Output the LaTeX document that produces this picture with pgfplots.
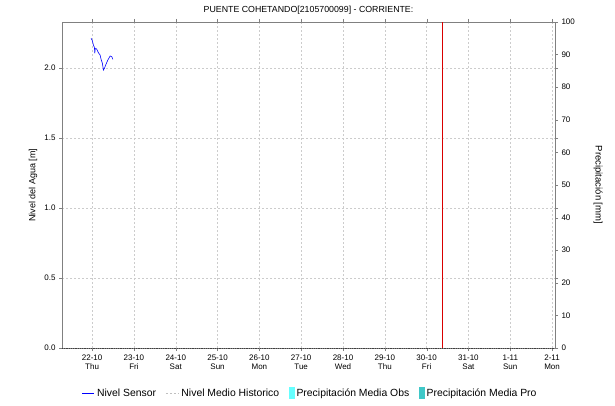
\documentclass[border=0pt]{standalone}
\usepackage{fontspec}
\setmainfont{Liberation Sans}
\usepackage{pgfplots}
\pgfplotsset{compat=1.18}
\definecolor{obs}{RGB}{102,255,255}
\definecolor{pro}{RGB}{64,200,200}
\begin{document}
\begin{tikzpicture}[font=\fontsize{8}{9.5}\selectfont]
\useasboundingbox (0,0) rectangle (615pt,405pt);
\begin{axis}[
  at={(62pt,57pt)}, anchor=south west,
  width=493pt, height=326pt, scale only axis,
  xmin=-0.72, xmax=11.07, ymin=0, ymax=2.329,
  xtick={0,...,11},
  xticklabels={22-10\\Thu,23-10\\Fri,24-10\\Sat,25-10\\Sun,26-10\\Mon,27-10\\Tue,28-10\\Wed,29-10\\Thu,30-10\\Fri,31-10\\Sat,1-11\\Sun,2-11\\Mon},
  xticklabel style={align=center, font=\fontsize{8}{9.5}\selectfont},
  ytick={0,0.5,1,1.5,2},
  yticklabel style={/pgf/number format/.cd, fixed, fixed zerofill, precision=1, assume math mode=true},
  /pgf/number format/assume math mode=true,
  tick align=outside, major tick length=3pt,
  tick style={gray},
  axis line style={gray},
  grid=major,
  major grid style={gray!40, dash pattern=on 2pt off 2pt},
  ylabel={Nivel del Agua [m]},
  every axis y label/.style={at={([xshift=-29pt]rel axis cs:0,0.5)}, anchor=center, rotate=90, font=\fontsize{9}{10}\selectfont},
  title={PUENTE COHETANDO[2105700099] - CORRIENTE:},
  every axis title shift=0pt,
  title style={at={(0.5,1)}, anchor=center, yshift=12pt, font=\fontsize{8.8}{10}\selectfont},
  legend columns=4,
  legend style={draw=none, fill=none, at={(0.504,-0.14)}, anchor=center, font=\fontsize{10.4}{11}\selectfont,
    /tikz/every even column/.append style={column sep=7pt},
    nodes={inner xsep=2.5pt}},
  legend cell align=left,
  clip=false,
]
\addplot[blue, line width=0.6pt, legend image code/.code={\draw[blue, line width=0.7pt] (0pt,0pt) -- (12pt,0pt);}] coordinates {
(-0.024,2.212) (0.007,2.195) (0.031,2.164) (0.055,2.148) (0.065,2.105) (0.072,2.134)
(0.089,2.141) (0.112,2.134) (0.151,2.109) (0.191,2.093) (0.215,2.062) (0.246,2.034)
(0.270,1.986) (0.294,1.998) (0.335,2.029) (0.376,2.057) (0.431,2.086) (0.471,2.081) (0.495,2.062)};
\addlegendentry{Nivel Sensor}
\addlegendimage{legend image code/.code={\draw[gray!50, dash pattern=on 2pt off 2pt] (0pt,0pt) -- (13pt,0pt);}}
\addlegendentry{Nivel Medio Historico}
\addlegendimage{legend image code/.code={\fill[obs] (0pt,-5pt) rectangle (5pt,6pt);}}
\addlegendentry{Precipitación Media Obs}
\addlegendimage{legend image code/.code={\fill[pro] (0pt,-5pt) rectangle (5pt,6pt);}}
\addlegendentry{Precipitación Media Pro}
\addplot[black!75, densely dotted, line width=0.8pt, forget plot] coordinates {(-0.72,0) (11.07,0)};
\addplot[red!85!black, line width=0.6pt, forget plot] coordinates {(8.37,0) (8.37,2.329)};
\end{axis}
\begin{axis}[
  at={(62pt,57pt)}, anchor=south west,
  width=493pt, height=326pt, scale only axis,
  xmin=-0.72, xmax=11.07, ymin=0, ymax=100,
  axis y line*=right, axis x line=none,
  ytick={0,10,...,100},
  /pgf/number format/assume math mode=true,
  tick align=outside, major tick length=3pt,
  tick style={gray}, axis line style={gray},
  ylabel={Precipitación [mm]},
  every axis y label/.style={at={([xshift=43pt]rel axis cs:1,0.5)}, anchor=center, rotate=-90, font=\fontsize{9.5}{10}\selectfont},
]
\end{axis}
\end{tikzpicture}
\end{document}
